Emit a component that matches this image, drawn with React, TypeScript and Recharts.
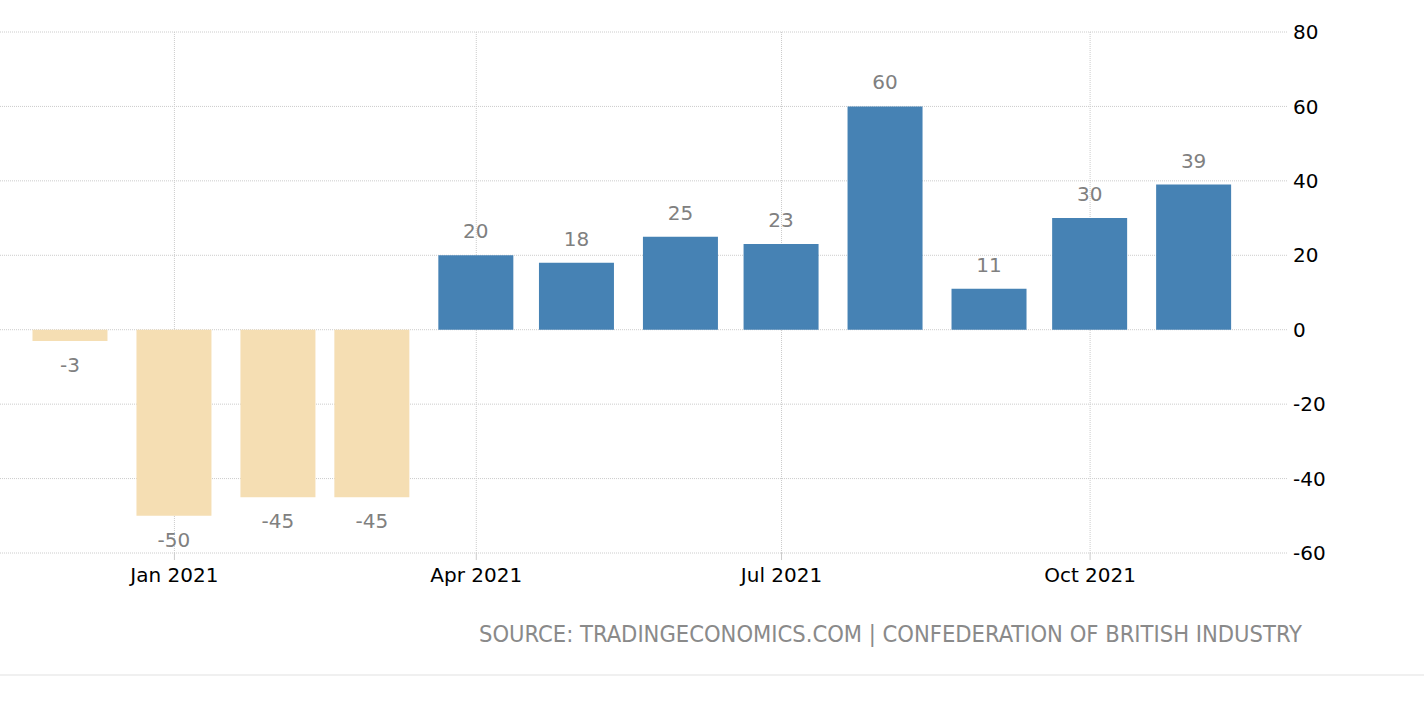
import React from "react";
import { BarChart, Bar, XAxis, YAxis, CartesianGrid, Cell, LabelList } from "recharts";

const months = [
  "2020-12", "2021-01", "2021-02", "2021-03", "2021-04", "2021-05",
  "2021-06", "2021-07", "2021-08", "2021-09", "2021-10", "2021-11",
];
const values = [-3, -50, -45, -45, 20, 18, 25, 23, 60, 11, 30, 39];
const xTickMonths = ["2021-01", "2021-04", "2021-07", "2021-10"];
const xTickLabels = ["Jan 2021", "Apr 2021", "Jul 2021", "Oct 2021"];
const yTicks = [-60, -40, -20, 0, 20, 40, 60, 80];

const toTs = (m: string) => {
  const [y, mo] = m.split("-").map(Number);
  return Date.UTC(y, mo - 1, 1);
};

const data = months.map((m, i) => ({ t: toTs(m), value: values[i] }));
const xTicks = xTickMonths.map(toTs);
const DAY = 86400000;
const xDomain = [toTs("2020-11") + 9 * DAY, toTs("2021-11") + 28 * DAY];

const FONT = "'DejaVu Sans', sans-serif";
const BLUE = "#4682b4";
const WHEAT = "#f5deb3";

const BarLabel = (props: any) => {
  const { x, y, width, height, value } = props;
  const top = Math.min(y, y + height);
  const bottom = Math.max(y, y + height);
  const cx = x + width / 2;
  const ty = value >= 0 ? top - 17 : bottom + 31;
  return (
    <text x={cx} y={ty} textAnchor="middle" fill="#808080" fontSize={20} fontFamily={FONT}>
      {value}
    </text>
  );
};

// vertical grid only at the x ticks (no frame lines at the plot edges)
const verticalAtTicks = ({ offset }: any) =>
  xTicks.map((t) => offset.left + ((t - xDomain[0]) / (xDomain[1] - xDomain[0])) * offset.width);

export default function App() {
  return (
    <div style={{ position: "absolute", left: 0, top: 0, width: 1424, height: 720, background: "#fff" }}>
      <BarChart width={1424} height={600} data={data} margin={{ top: 32, right: 76, bottom: 7, left: 0 }}>
        <CartesianGrid
          stroke="#cccccc"
          strokeDasharray="1 1"
          verticalCoordinatesGenerator={verticalAtTicks}
        />
        <XAxis
          dataKey="t"
          type="number"
          scale="time"
          domain={xDomain}
          ticks={xTicks}
          tickFormatter={(v: number) => xTickLabels[xTicks.indexOf(v)] ?? ""}
          axisLine={false}
          tickLine={{ stroke: "#cccccc" }}
          tickSize={7}
          tickMargin={8}
          height={40}
          tick={{ fill: "#000", fontSize: 20, fontFamily: FONT }}
          allowDataOverflow
        />
        <YAxis
          orientation="right"
          domain={[-60, 80]}
          ticks={yTicks}
          axisLine={false}
          tickLine={false}
          tickSize={0}
          tickMargin={5}
          width={60}
          tick={{ fill: "#000", fontSize: 20, fontFamily: FONT }}
        />
        <Bar dataKey="value" barSize={75} isAnimationActive={false}>
          {data.map((d, i) => (
            <Cell key={i} fill={d.value < 0 ? WHEAT : BLUE} />
          ))}
          <LabelList dataKey="value" content={BarLabel} />
        </Bar>
      </BarChart>
      <div
        style={{
          position: "absolute",
          right: 122,
          top: 620,
          fontFamily: "'DejaVu Sans Condensed', 'DejaVu Sans', sans-serif",
          fontStretch: "condensed",
          fontSize: 23.5,
          color: "#8a8a8a",
          whiteSpace: "nowrap",
        }}
      >
        SOURCE: TRADINGECONOMICS.COM | CONFEDERATION OF BRITISH INDUSTRY
      </div>
      <div style={{ position: "absolute", left: 0, top: 674, width: 1424, height: 2, background: "#f0f0f0" }} />
    </div>
  );
}
